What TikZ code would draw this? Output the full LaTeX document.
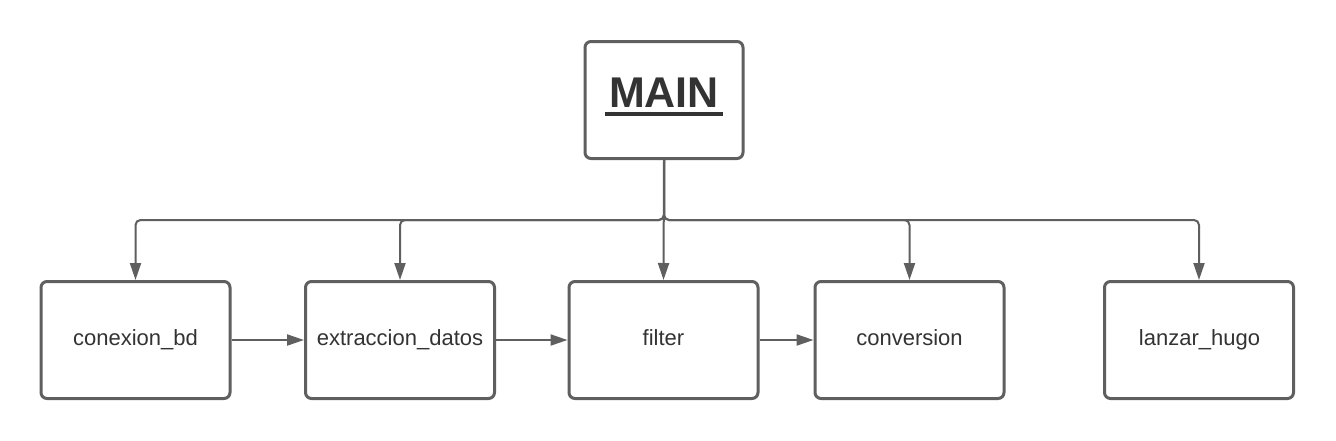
\documentclass[tikz,border=0pt]{standalone}
\usepackage{fontspec}
\setmainfont{Liberation Sans}
\usetikzlibrary{arrows.meta}
\definecolor{ln}{HTML}{5F5F5F}
\definecolor{tx}{HTML}{333333}
\begin{document}
\begin{tikzpicture}[x=1pt,y=-1pt,
  box/.style={draw=ln, line width=3pt, rounded corners=6pt, fill=white, minimum width=189pt, minimum height=117pt, inner sep=0pt},
  lbl/.style={text=tx, font=\fontsize{22}{24}\selectfont, anchor=base},
  conn/.style={draw=ln, line width=2pt, -{Triangle[length=17pt,width=11pt]}, rounded corners=5pt}]
\useasboundingbox[fill=white] (0,0) rectangle (1336,440);
\node[box, minimum width=158pt, minimum height=117pt] (main) at (664,100) {};
\node[text=tx, font=\bfseries\fontsize{43}{48}\selectfont, anchor=base, inner sep=0pt] (maint) at (664,107) {MAIN};
\fill[tx] (605,111.5) rectangle (723,115.5);
\node[box] (c1) at (135.5,340) {};
\node[box] (c2) at (400,340) {};
\node[box] (c3) at (663.5,340) {};
\node[box] (c4) at (909.5,340) {};
\node[box] (c5) at (1199,340) {};
\node[lbl] at (135.5,345.5) {conexion\_bd};
\node[lbl] at (400,345.5) {extraccion\_datos};
\node[lbl] at (663.5,345.5) {filter};
\node[lbl] at (909.5,345.5) {conversion};
\node[lbl] at (1199.5,345.5) {lanzar\_hugo};
\coordinate (bus) at (664,220);
\foreach \t in {c1,c2,c4,c5}{
  \draw[conn] (main.south) -- (bus) -| (\t.north);
}
\draw[conn] (main.south) -- (c3.north);
\draw[conn] (c1.east) -- (c2.west);
\draw[conn] (c2.east) -- (c3.west);
\draw[conn] (c3.east) -- (c4.west);
\end{tikzpicture}
\end{document}
